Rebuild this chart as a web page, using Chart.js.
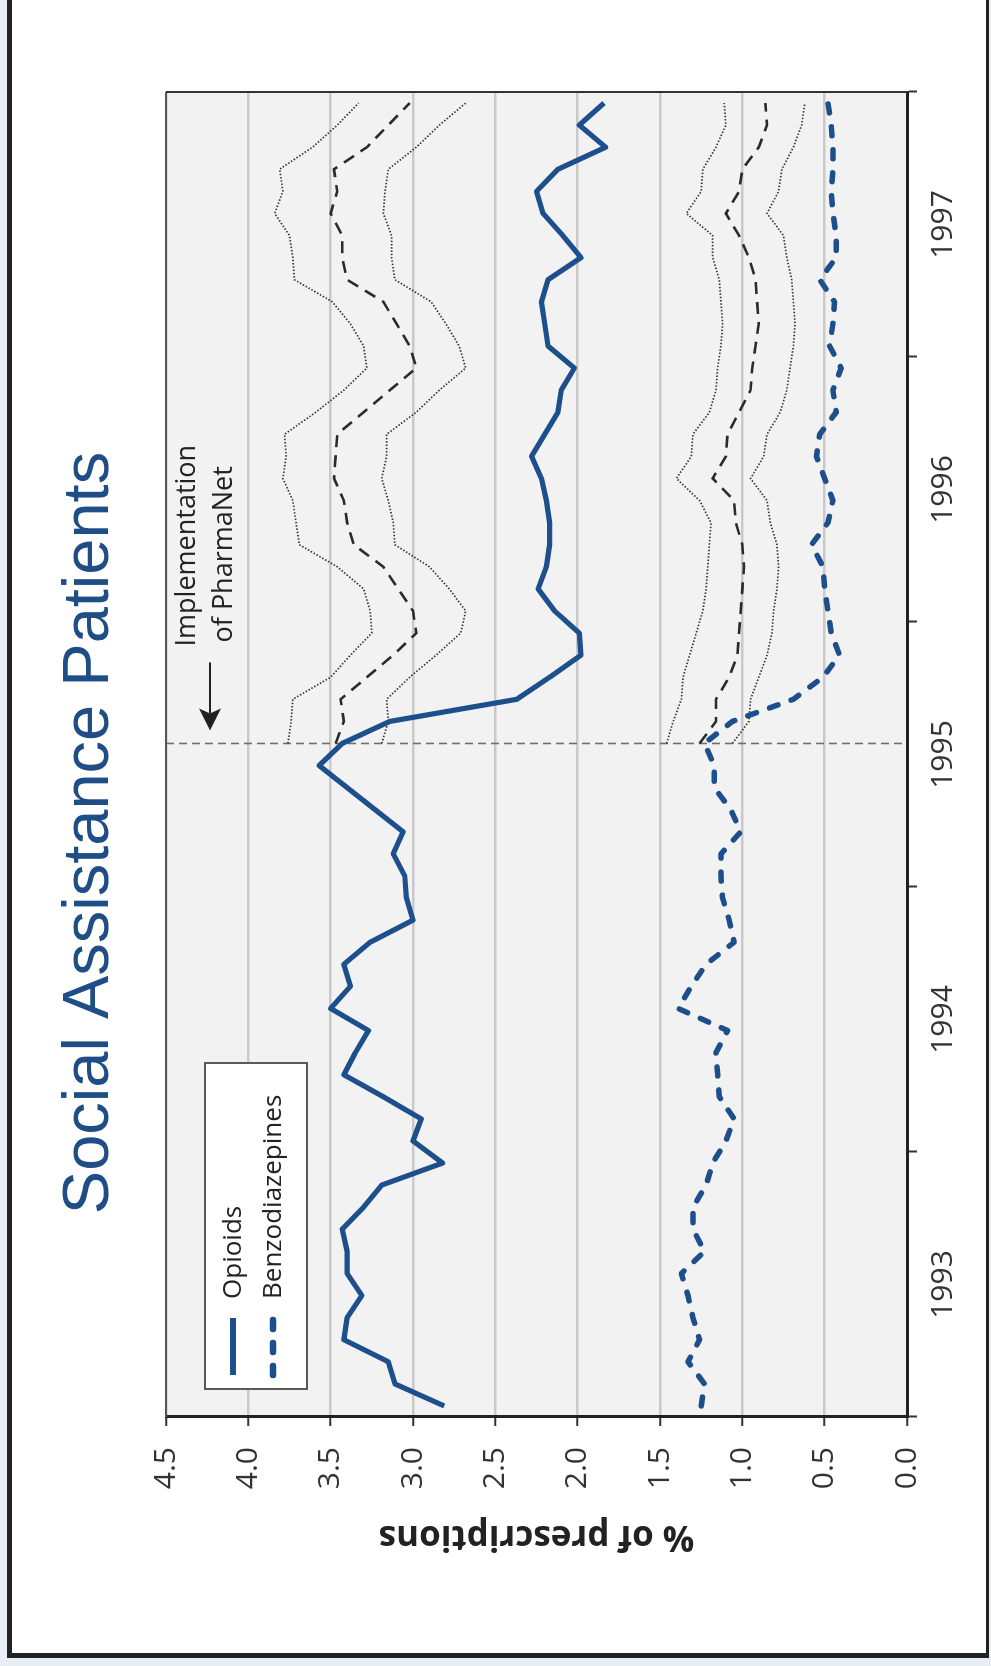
<!DOCTYPE html>
<html>
<head>
<meta charset="utf-8">
<title>Social Assistance Patients</title>
<script src="https://cdn.jsdelivr.net/npm/chart.js@4.4.1/dist/chart.umd.min.js"></script>
<style>
  html, body { margin: 0; padding: 0; }
  body { width: 991px; height: 1666px; background: #e9edf4; position: relative; overflow: hidden; }
  .panel {
    position: absolute; left: 7px; top: -10px; width: 982px; height: 1668px;
    box-sizing: border-box; background: #fff;
    border-left: 5px solid #222; border-right: 3px solid #222; border-bottom: 5px solid #222;
  }
  /* the chart is laid out landscape and then turned to read bottom-to-top */
  .rotated {
    position: absolute; left: 0; top: 0; width: 1666px; height: 991px;
    transform-origin: 0 0; transform: translateY(1666px) rotate(-90deg);
  }
</style>
</head>
<body>
<div class="panel"></div>
<div class="rotated"><canvas id="chart"></canvas></div>
<script>
// Monthly share of prescriptions, Jan 1993 - Dec 1997 (60 months)
const yearLabels = ['1993', '1994', '1995', '1996', '1997'];

const opioids = [
  2.81, 3.11, 3.15, 3.42, 3.40, 3.31, 3.40, 3.40, 3.43, 3.30,
  3.19, 2.82, 3.00, 2.95, 3.18, 3.42, 3.35, 3.27, 3.50, 3.38,
  3.42, 3.26, 3.00, 3.04, 3.05, 3.12, 3.06, 3.23, 3.40, 3.57,
  3.43, 3.14, 2.37, 2.17, 1.98, 1.99, 2.14, 2.24, 2.19, 2.17,
  2.17, 2.19, 2.22, 2.28, 2.20, 2.12, 2.10, 2.02, 2.18, 2.20,
  2.22, 2.18, 1.98, 2.09, 2.21, 2.25, 2.12, 1.83, 1.99, 1.84
];

const benzodiazepines = [
  1.25, 1.23, 1.33, 1.26, 1.30, 1.33, 1.37, 1.23, 1.30, 1.30,
  1.22, 1.18, 1.10, 1.05, 1.14, 1.15, 1.16, 1.09, 1.39, 1.31,
  1.22, 1.05, 1.08, 1.12, 1.13, 1.13, 1.01, 1.07, 1.17, 1.17,
  1.23, 1.06, 0.69, 0.51, 0.41, 0.46, 0.48, 0.50, 0.51, 0.58,
  0.48, 0.45, 0.50, 0.55, 0.53, 0.43, 0.45, 0.40, 0.47, 0.45,
  0.44, 0.53, 0.43, 0.43, 0.45, 0.46, 0.45, 0.45, 0.46, 0.48
];

// PharmaNet went live in month 30 (July 1995); forecasts run from there
const pharmanetMonth = 30;

const opioidForecast = [
  3.47, 3.42, 3.44, 3.28, 3.12, 2.98, 3.00, 3.09, 3.18, 3.36,
  3.40, 3.42, 3.48, 3.47, 3.46, 3.30, 3.14, 2.98, 3.02, 3.10,
  3.18, 3.40, 3.43, 3.43, 3.50, 3.46, 3.48, 3.28, 3.15, 3.02
];
const opioidUpper = [
  3.76, 3.74, 3.73, 3.50, 3.38, 3.25, 3.26, 3.30, 3.46, 3.69,
  3.71, 3.73, 3.79, 3.77, 3.78, 3.59, 3.42, 3.28, 3.30, 3.38,
  3.49, 3.72, 3.73, 3.75, 3.84, 3.79, 3.81, 3.61, 3.46, 3.33
];
const opioidLower = [
  3.19, 3.15, 3.16, 3.02, 2.86, 2.71, 2.68, 2.78, 2.90, 3.11,
  3.12, 3.15, 3.19, 3.16, 3.16, 2.98, 2.84, 2.68, 2.72, 2.80,
  2.89, 3.11, 3.13, 3.13, 3.18, 3.17, 3.15, 2.98, 2.84, 2.68
];

const benzoForecast = [
  1.26, 1.16, 1.16, 1.08, 1.03, 1.02, 1.01, 1.00, 0.99, 1.00,
  1.04, 1.05, 1.18, 1.10, 1.09, 1.02, 0.95, 0.94, 0.92, 0.90,
  0.91, 0.92, 0.96, 1.02, 1.10, 1.02, 1.00, 0.90, 0.85, 0.86
];
const benzoUpper = [
  1.46, 1.42, 1.37, 1.36, 1.32, 1.28, 1.24, 1.22, 1.21, 1.20,
  1.19, 1.26, 1.40, 1.31, 1.30, 1.20, 1.16, 1.15, 1.13, 1.12,
  1.13, 1.14, 1.18, 1.18, 1.34, 1.25, 1.24, 1.16, 1.10, 1.11
];
const benzoLower = [
  1.06, 0.96, 0.95, 0.90, 0.85, 0.82, 0.81, 0.79, 0.78, 0.79,
  0.83, 0.85, 0.95, 0.87, 0.85, 0.77, 0.73, 0.71, 0.69, 0.68,
  0.69, 0.70, 0.73, 0.75, 0.85, 0.78, 0.76, 0.69, 0.64, 0.62
];

const BLUE = '#1c4f8b';
const tickFont = '"Open Sans", "DejaVu Sans", sans-serif';

// points sit in the middle of their month
function toPoints(values, firstMonth) {
  return values.map((v, i) => ({ x: firstMonth + i + 0.5, y: v }));
}

const tickMonths = [];
for (let m = 0; m <= yearLabels.length * 12; m += 6) tickMonths.push(m);

function forecastLine(values, dotted) {
  return {
    data: toPoints(values, pharmanetMonth),
    borderColor: dotted ? '#333' : '#2b2b2b',
    borderWidth: dotted ? 1.7 : 2.6,
    borderDash: dotted ? [1.5, 1.8] : [12, 8],
    pointRadius: 0,
    tension: 0,
    inLegend: false
  };
}

// plot background, frame and the PharmaNet marker
const plotFrame = {
  id: 'plotFrame',
  beforeDraw(chart) {
    const { ctx, chartArea: a } = chart;
    ctx.save();
    ctx.fillStyle = '#f2f2f2';
    ctx.fillRect(a.left, a.top, a.right - a.left, a.bottom - a.top);
    ctx.restore();
  },
  beforeDatasetsDraw(chart) {
    const { ctx, chartArea: a, scales } = chart;
    const x = scales.x.getPixelForValue(pharmanetMonth + 0.5);
    ctx.save();
    ctx.strokeStyle = '#6f6f6f';
    ctx.lineWidth = 1.6;
    ctx.setLineDash([8, 5]);
    ctx.beginPath();
    ctx.moveTo(x, a.top);
    ctx.lineTo(x, a.bottom);
    ctx.stroke();
    ctx.restore();
  },
  afterDraw(chart) {
    const { ctx, chartArea: a, scales } = chart;
    ctx.save();
    ctx.lineWidth = 2;
    ctx.strokeStyle = '#555';
    ctx.beginPath();
    ctx.moveTo(a.left, a.top);
    ctx.lineTo(a.right, a.top);
    ctx.stroke();
    ctx.strokeStyle = '#333';
    ctx.beginPath();
    ctx.moveTo(a.right, a.top);
    ctx.lineTo(a.right, a.bottom);
    ctx.stroke();

    // note with arrow pointing at the marker line
    const x = scales.x.getPixelForValue(pharmanetMonth + 0.5);
    const ay = a.top + 44;
    ctx.strokeStyle = '#222';
    ctx.fillStyle = '#222';
    ctx.lineWidth = 2;
    ctx.beginPath();
    ctx.moveTo(x + 81, ay);
    ctx.lineTo(x + 30, ay);
    ctx.stroke();
    ctx.beginPath();
    ctx.moveTo(x + 13, ay);
    ctx.lineTo(x + 35, ay - 11);
    ctx.lineTo(x + 30, ay);
    ctx.lineTo(x + 35, ay + 11);
    ctx.closePath();
    ctx.fill();

    ctx.font = '27px ' + tickFont;
    ctx.textAlign = 'left';
    ctx.textBaseline = 'alphabetic';
    ctx.fillText('Implementation', x + 97, a.top + 29);
    ctx.fillText('of PharmaNet', x + 101, a.top + 66);
    ctx.restore();
  }
};

// boxed legend in the upper-left corner of the plot
const legendBox = {
  id: 'legendBox',
  afterDraw(chart) {
    const { ctx, chartArea: a } = chart;
    const bx = a.left + 28, by = a.top + 39, bw = 326, bh = 102;
    ctx.save();
    ctx.fillStyle = '#fff';
    ctx.fillRect(bx, by, bw, bh);
    ctx.strokeStyle = '#5a5a5a';
    ctx.lineWidth = 2;
    ctx.strokeRect(bx, by, bw, bh);

    const items = chart.data.datasets.filter(d => d.inLegend !== false);
    items.forEach((d, i) => {
      const y = by + 28 + i * 40;
      ctx.strokeStyle = d.borderColor;
      ctx.lineWidth = d.borderWidth + 1;
      ctx.lineCap = d.borderCapStyle || 'butt';
      ctx.setLineDash(d.borderDash || []);
      ctx.beginPath();
      ctx.moveTo(bx + 14, y);
      ctx.lineTo(bx + 71, y);
      ctx.stroke();
      ctx.setLineDash([]);
      ctx.fillStyle = '#222';
      ctx.font = '26px ' + tickFont;
      ctx.textBaseline = 'middle';
      ctx.fillText(d.label, bx + 90, y + 1);
    });
    ctx.restore();
  }
};

new Chart(document.getElementById('chart'), {
  type: 'line',
  data: {
    datasets: [
      {
        label: 'Opioids',
        data: toPoints(opioids, 0),
        borderColor: BLUE,
        borderWidth: 5.2,
        borderJoinStyle: 'round',
        pointRadius: 0,
        tension: 0
      },
      {
        label: 'Benzodiazepines',
        data: toPoints(benzodiazepines, 0),
        borderColor: BLUE,
        borderWidth: 5.5,
        borderDash: [9, 14],
        borderCapStyle: 'round',
        borderJoinStyle: 'round',
        pointRadius: 0,
        tension: 0
      },
      forecastLine(opioidForecast, false),
      forecastLine(opioidUpper, true),
      forecastLine(opioidLower, true),
      forecastLine(benzoForecast, false),
      forecastLine(benzoUpper, true),
      forecastLine(benzoLower, true)
    ]
  },
  options: {
    responsive: true,
    maintainAspectRatio: false,
    animation: false,
    layout: { padding: 0 },
    plugins: {
      legend: { display: false },
      tooltip: { enabled: false },
      title: {
        display: true,
        text: 'Social Assistance Patients',
        color: '#1f4d85',
        font: { family: '"Liberation Sans", Arial, sans-serif', size: 65, weight: 'normal' },
        padding: { top: 51, bottom: 37 }
      }
    },
    scales: {
      x: {
        type: 'linear',
        min: 0,
        max: yearLabels.length * 12,
        afterBuildTicks: axis => { axis.ticks = tickMonths.map(v => ({ value: v })); },
        afterFit: s => { s.height = 84; },
        ticks: {
          autoSkip: false,
          maxRotation: 0,
          minRotation: 0,
          padding: 8,
          color: '#333',
          font: { family: tickFont, size: 30 },
          callback: v => (v % 12 === 6 ? yearLabels[(v - 6) / 12] : '')
        },
        grid: {
          drawOnChartArea: false,
          tickLength: 10,
          tickWidth: 2,
          tickColor: c => (c.tick && c.tick.value % 12 === 0 ? '#333' : 'rgba(0,0,0,0)')
        },
        border: { color: '#222', width: 3 }
      },
      y: {
        min: 0,
        max: 4.5,
        afterFit: s => { s.width = 249; },
        ticks: {
          stepSize: 0.5,
          padding: 21,
          color: '#333',
          font: { family: tickFont, size: 30 },
          callback: v => Number(v).toFixed(1)
        },
        grid: { color: '#c9c9c9', lineWidth: 2.5, tickLength: 9, tickWidth: 2, tickColor: '#333' },
        border: { color: '#222', width: 3 },
        title: {
          display: true,
          text: '% of prescriptions',
          color: '#222',
          font: { family: tickFont, size: 35, weight: 'bold' },
          padding: { top: 109, bottom: 0 }
        }
      },
      // empty strip on the far side so the title stays centred on the whole panel
      spacer: {
        position: 'right',
        min: 0,
        max: 4.5,
        afterFit: s => { s.width = 92; },
        ticks: { display: false },
        grid: { display: false },
        border: { display: false }
      }
    }
  },
  plugins: [plotFrame, legendBox]
});
</script>
</body>
</html>
